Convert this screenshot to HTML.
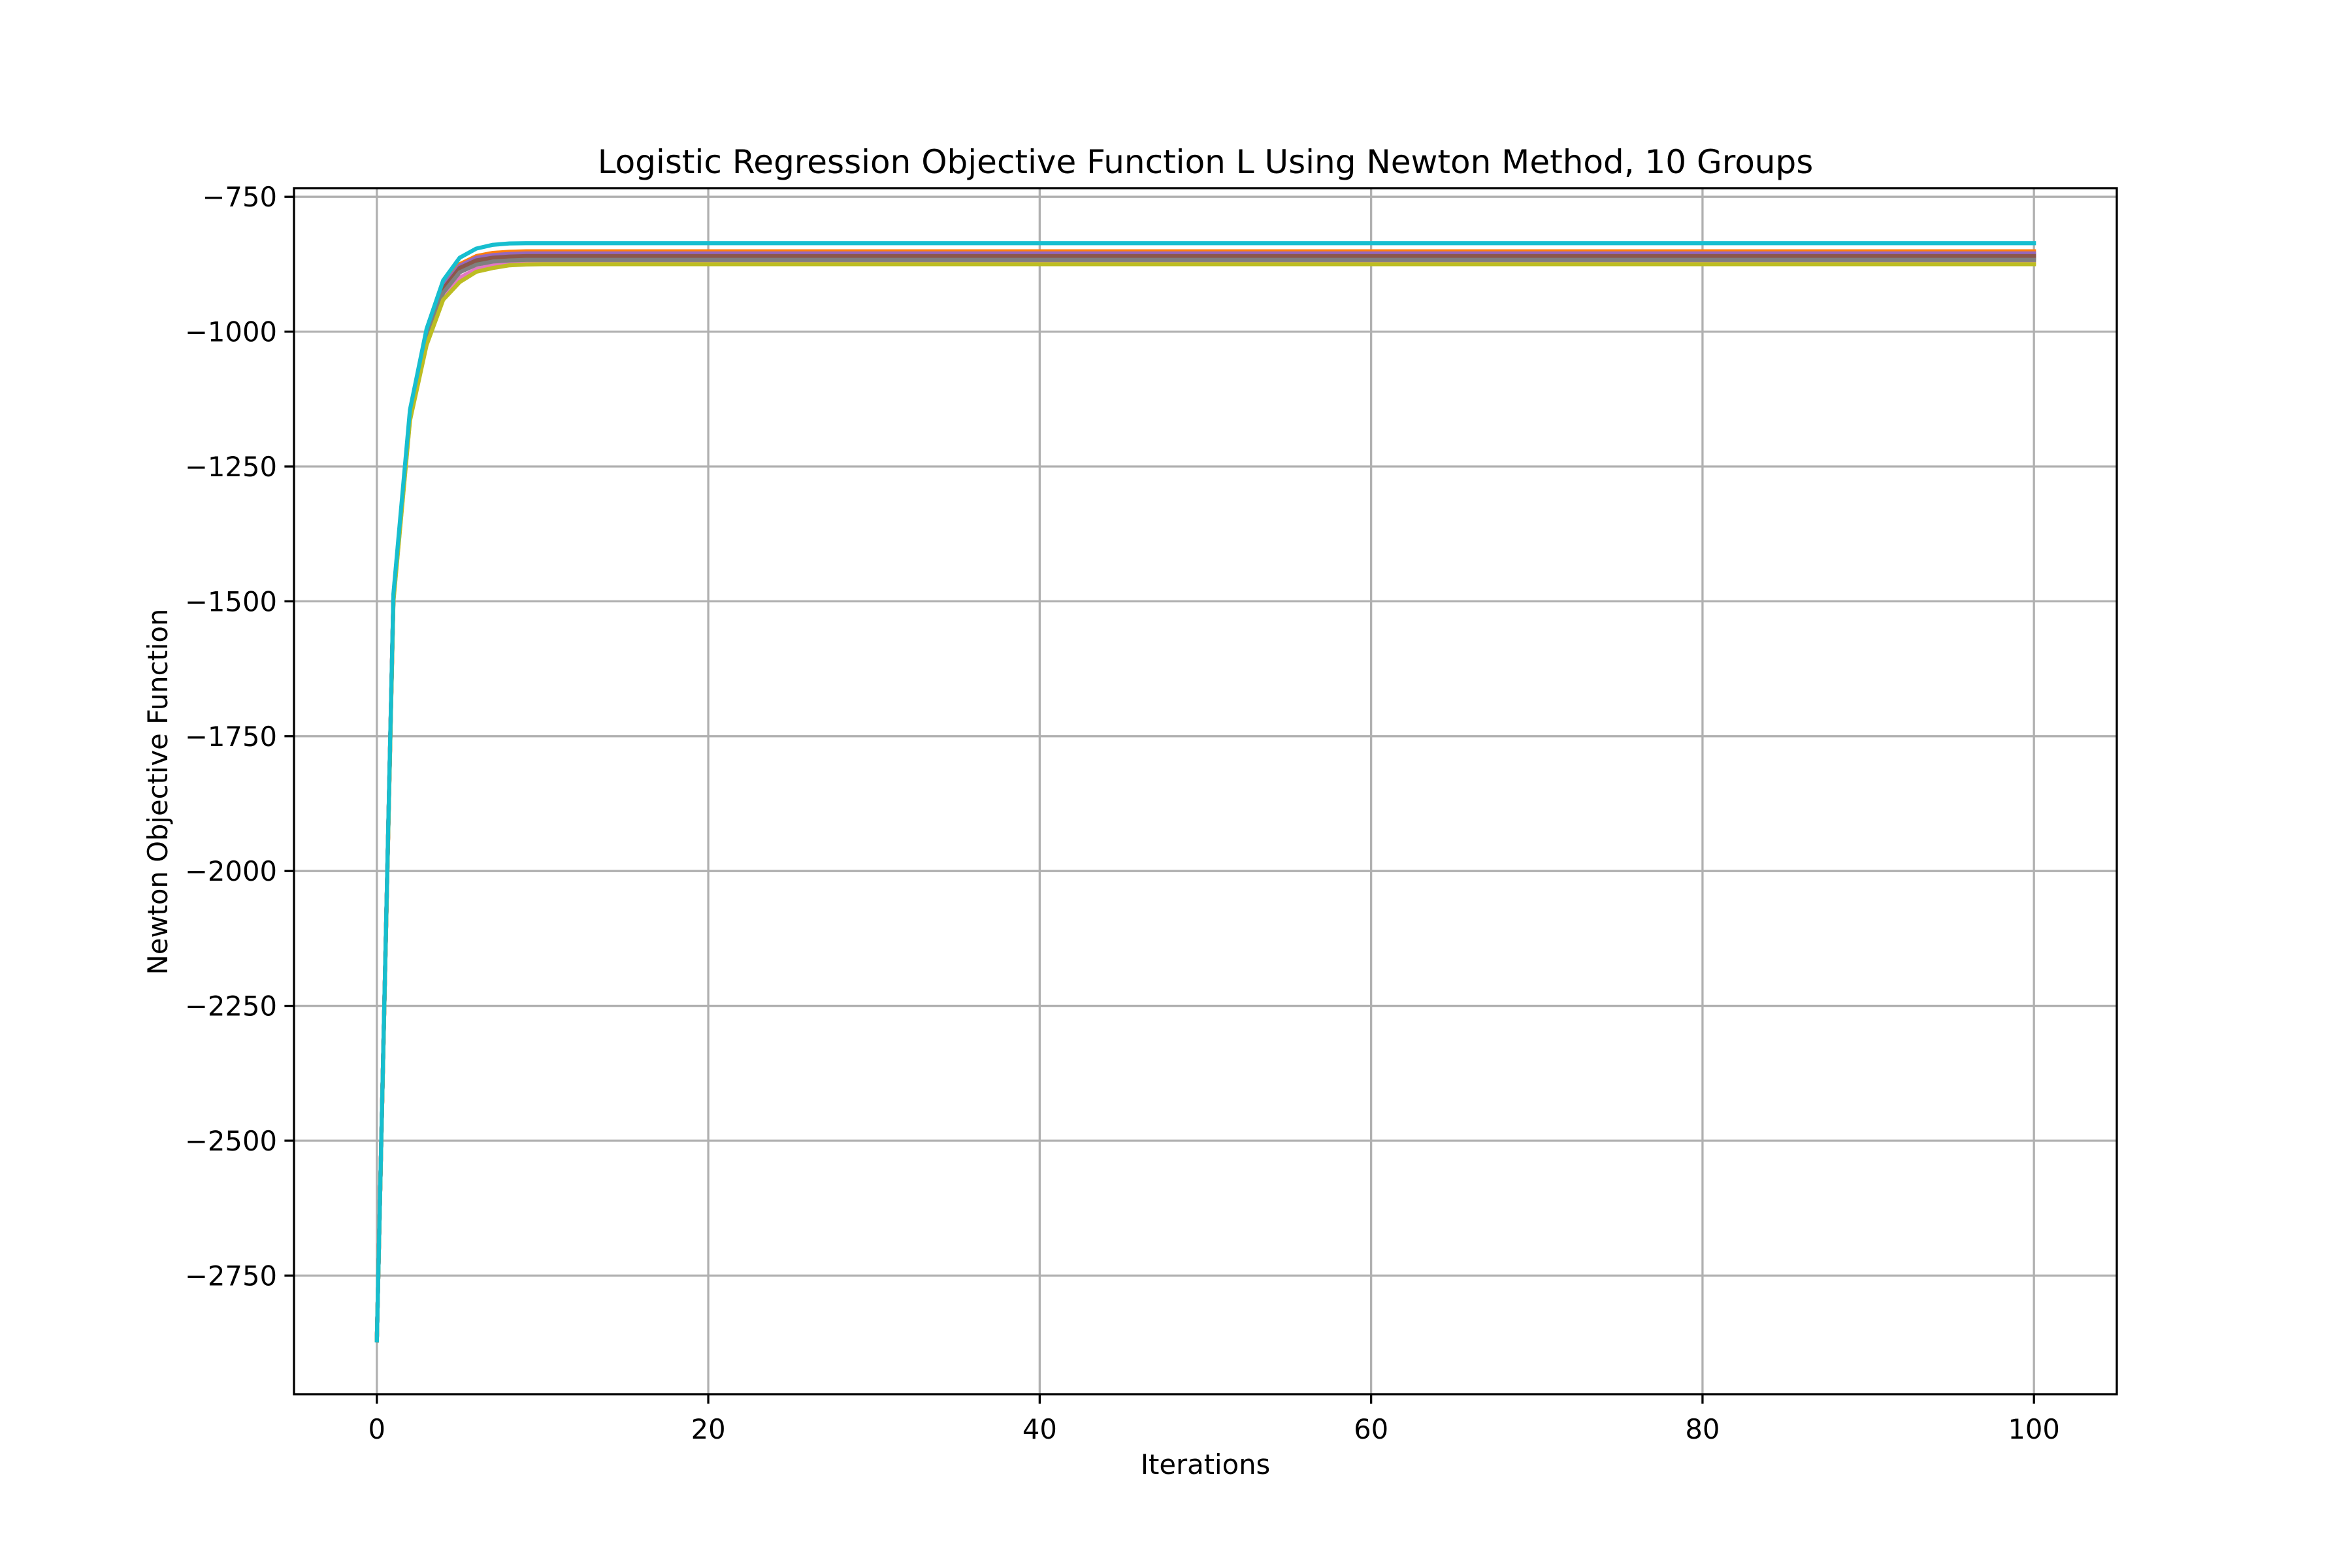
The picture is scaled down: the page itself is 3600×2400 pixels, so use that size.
<!DOCTYPE html>
<html><head><meta charset="utf-8"><style>
html,body{margin:0;padding:0;background:#fff;}
svg{display:block;font-family:"DejaVu Sans","Liberation Sans",sans-serif;}
</style></head><body>
<svg id="chart" width="3600" height="2400" viewBox="0 0 3600 2400" xmlns="http://www.w3.org/2000/svg">
<rect width="3600" height="2400" fill="#fff"/>
<g id="grid"></g>
<g id="series"></g>
<g id="axes"></g>
<text x="1845" y="265" font-size="50" text-anchor="middle">Logistic Regression Objective Function L Using Newton Method, 10 Groups</text>
<text x="1845" y="2256" font-size="41.7" text-anchor="middle">Iterations</text>
<text x="0" y="0" font-size="41.7" text-anchor="middle" transform="translate(256,1212) rotate(-90)">Newton Objective Function</text>
</svg>
<script>
const iterations = [0,1,2,3,4,5,6,7,8,9,10,100];
const groupNames = ["group-1","group-2","group-3","group-4","group-5","group-6","group-7","group-8","group-9","group-10"];
const s1  = [-2870,-1492,-1155,-1008,-922,-884,-870,-865,-863,-862,-862,-862];
const s2  = [-2870,-1490,-1150,-1000,-915,-875,-860,-854,-852,-851,-851,-851];
const s3  = [-2870,-1494,-1157,-1012,-926,-888,-874,-869,-867,-866,-866,-866];
const s4  = [-2870,-1491,-1153,-1005,-919,-880,-866,-861,-859,-858,-858,-858];
const s5  = [-2870,-1490,-1152,-1003,-917,-878,-863,-858,-856,-855,-855,-855];
const s6  = [-2870,-1492,-1155,-1008,-921,-882,-868,-863,-861,-860,-860,-860];
const s7  = [-2870,-1498,-1163,-1020,-935,-900,-884,-877,-874,-872,-872,-872];
const s8  = [-2870,-1495,-1159,-1014,-928,-890,-876,-870,-868,-867,-867,-867];
const s9  = [-2870,-1500,-1165,-1025,-941,-908,-889,-882,-877,-875.5,-875,-875];
const s10 = [-2870,-1486,-1145,-995,-905,-863,-846,-839,-836.5,-836,-836,-836];
const seriesValues = [s1,s2,s3,s4,s5,s6,s7,s8,s9,s10];
const colors = ["#1f77b4","#ff7f0e","#2ca02c","#d62728","#9467bd","#8c564b","#e377c2","#7f7f7f","#bcbd22","#17becf"];
const xTicks = [0,20,40,60,80,100];
const yTicks = [-750,-1000,-1250,-1500,-1750,-2000,-2250,-2500,-2750];
const yTickLabels = ["\u2212750","\u22121000","\u22121250","\u22121500","\u22121750","\u22122000","\u22122250","\u22122500","\u22122750"];

const L=450,R=3240,T=288,B=2134;
const xMin=-5,xMax=105,yMin=-2970,yMax=-734;
const sx=v=>L+(v-xMin)/(xMax-xMin)*(R-L);
const sy=v=>B-(v-yMin)/(yMax-yMin)*(B-T);
const NS="http://www.w3.org/2000/svg";
function mk(tag,attrs,parent){const e=document.createElementNS(NS,tag);for(const k in attrs)e.setAttribute(k,attrs[k]);parent.appendChild(e);return e;}
const grid=document.getElementById('grid'),axes=document.getElementById('axes'),ser=document.getElementById('series');

xTicks.forEach(t=>{
  const x=sx(t);
  const g=mk('line',{x1:x,x2:x,y1:T,y2:B,stroke:'#b0b0b0','stroke-width':3.3},grid);
  
  
  const tk=mk('line',{x1:x,x2:x,y1:B,y2:B+14.6,stroke:'#000','stroke-width':3.3},axes);
  
  
  const lb=mk('text',{x:x,y:B+68,'font-size':41.7,'text-anchor':'middle'},axes);
  lb.textContent=String(t);
  
  
});
yTicks.forEach((t,i)=>{
  const y=sy(t);
  const g=mk('line',{x1:L,x2:R,y1:y,y2:y,stroke:'#b0b0b0','stroke-width':3.3},grid);
  
  
  const tk=mk('line',{x1:L-14.6,x2:L,y1:y,y2:y,stroke:'#000','stroke-width':3.3},axes);
  
  
  const lb=mk('text',{x:L-26,y:y+15,'font-size':41.7,'text-anchor':'end'},axes);
  lb.textContent=yTickLabels[i];
  
  
});
seriesValues.forEach((vals,i)=>{
  const pts=vals.map((v,j)=>sx(iterations[j]).toFixed(1)+','+sy(v).toFixed(1)).join(' ');
  const p=mk('polyline',{points:pts,fill:'none',stroke:colors[i],'stroke-width':6.25,'stroke-linejoin':'round','stroke-linecap':'square'},ser);
  
  
});
const fr=mk('rect',{x:L,y:T,width:R-L,height:B-T,fill:'none',stroke:'#000','stroke-width':3.3},axes);


</script>
</body></html>
